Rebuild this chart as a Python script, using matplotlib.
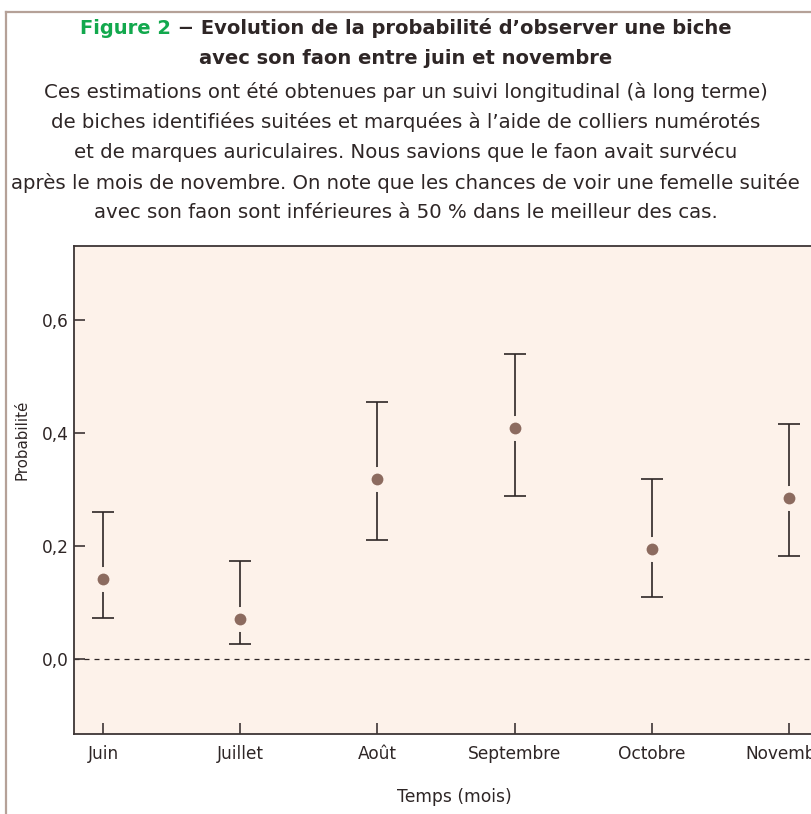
import matplotlib
matplotlib.use("Agg")
import matplotlib.pyplot as plt
from matplotlib.lines import Line2D

months = ["Juin", "Juillet", "Août", "Septembre", "Octobre", "Novembre"]
prob = [0.141, 0.070, 0.319, 0.409, 0.194, 0.284]
lower = [0.072, 0.026, 0.211, 0.289, 0.110, 0.182]
upper = [0.260, 0.174, 0.454, 0.540, 0.319, 0.415]
yticks = [0.0, 0.2, 0.4, 0.6]
ytick_labels = ["0,0", "0,2", "0,4", "0,6"]

title_green = "Figure 2"
title_rest = " − Evolution de la probabilité d’observer une biche"
title_line2 = "avec son faon entre juin et novembre"
body = [
    "Ces estimations ont été obtenues par un suivi longitudinal (à long terme)",
    "de biches identifiées suitées et marquées à l’aide de colliers numérotés",
    "et de marques auriculaires. Nous savions que le faon avait survécu",
    "après le mois de novembre. On note que les chances de voir une femelle suitée",
    "avec son faon sont inférieures à 50 % dans le meilleur des cas.",
]

W, H = 811, 814
BG = "#fdf2ea"
DARK = "#2e2626"
DOT = "#8c6b5f"
GREEN = "#12a84d"
FRAME = "#b5a198"
FONT = "DejaVu Sans"

fig = plt.figure(figsize=(W / 100, H / 100), dpi=100)
fig.patch.set_facecolor("white")
renderer = fig.canvas.get_renderer()


def fit_size(text, target_px, weight="normal"):
    t = fig.text(0, 0, text, fontsize=10, family=FONT, fontweight=weight)
    w = t.get_window_extent(renderer).width
    t.remove()
    return 10 * target_px / w


# frame lines (left and top)
fig.add_artist(Line2D([6 / W, 6 / W], [0, 1 - 12 / H], color=FRAME, lw=1.6))
fig.add_artist(Line2D([6 / W, 1], [1 - 12 / H, 1 - 12 / H], color=FRAME, lw=1.6))

# title line 1 (two colours)
tsize = fit_size(title_green + title_rest, 652, "bold")
y1 = 1 - 28 / H
tg = fig.text(0, y1, title_green, fontsize=tsize, fontweight="bold", color=GREEN,
              family=FONT, va="center", ha="left")
tr = fig.text(0, y1, title_rest, fontsize=tsize, fontweight="bold", color=DARK,
              family=FONT, va="center", ha="left")
wg = tg.get_window_extent(renderer).width
wr = tr.get_window_extent(renderer).width
x0 = (W - (wg + wr)) / 2
tg.set_x(x0 / W)
tr.set_x((x0 + wg) / W)
fig.text(0.5, 1 - 58 / H, title_line2, fontsize=tsize, fontweight="bold", color=DARK,
         family=FONT, va="center", ha="center")

bsize = fit_size(body[3], 788)
for i, line in enumerate(body):
    fig.text(0.5, 1 - (92 + 30.2 * i) / H, line, fontsize=bsize, color=DARK,
             family=FONT, va="center", ha="center")

# axes
left, right, top, bottom = 74, 818, 246, 734
ax = fig.add_axes([left / W, 1 - bottom / H, (right - left) / W, (bottom - top) / H])
ax.set_facecolor(BG)
x = list(range(len(months)))
ax.set_xlim(-0.211, 5.211)
ax.set_ylim(-0.133, 0.731)

ax.axhline(0, color=DARK, lw=0.9, ls=(0, (4, 4)), zorder=1)

yerr = [[p - l for p, l in zip(prob, lower)], [u - p for u, p in zip(upper, prob)]]
ax.errorbar(x, prob, yerr=yerr, fmt="none", ecolor=DARK, elinewidth=1.2,
            capsize=8, capthick=1.2, zorder=2)
ax.plot(x, prob, "o", ms=18, color=BG, mec="none", zorder=3)
ax.plot(x, prob, "o", ms=8.5, color=DOT, mec="none", zorder=4)

for s in ["left", "bottom", "top"]:
    ax.spines[s].set_color("#3d3535")
    ax.spines[s].set_linewidth(1.3)
ax.spines["right"].set_visible(False)

ksize = fit_size("Septembre", 94)
ax.set_xticks(x)
ax.set_xticklabels(months, fontsize=ksize, color=DARK, family=FONT)
ax.set_yticks(yticks)
ax.set_yticklabels(ytick_labels, fontsize=ksize, color=DARK, family=FONT)
ax.tick_params(axis="both", direction="in", length=8, width=1.2, color="#3d3535", pad=8)
ax.tick_params(axis="y", pad=4)

fig.text(454 / W, 1 - 797 / H, "Temps (mois)", fontsize=fit_size("Temps (mois)", 114),
         color=DARK, family=FONT, ha="center", va="center")
fig.text(22 / W, 1 - 440 / H, "Probabilité", fontsize=fit_size("Probabilité", 80),
         color=DARK, family=FONT, ha="center", va="center", rotation=90)

fig.savefig("out.png", dpi=100, facecolor="white")
